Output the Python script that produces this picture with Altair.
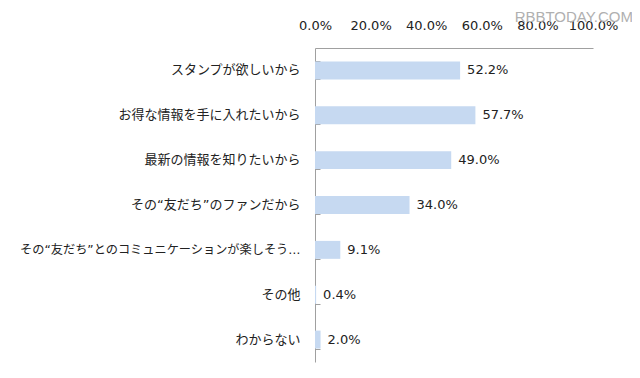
import altair as alt
import pandas as pd

categories = [
    "スタンプが欲しいから",
    "お得な情報を手に入れたいから",
    "最新の情報を知りたいから",
    "その“友だち”のファンだから",
    "その“友だち”とのコミュニケーションが楽しそう…",
    "その他",
    "わからない",
]
values = [52.2, 57.7, 49.0, 34.0, 9.1, 0.4, 2.0]
x_ticks = [0, 20, 40, 60, 80, 100]
watermark = ["RBBTODAY.COM"]

df = pd.DataFrame({"cat": categories, "value": values})

JP = "DejaVu Sans, Noto Sans CJK JP"
NUM = "DejaVu Sans"
AX = "#a0a0a0"

yscale = alt.Scale(paddingInner=0.6, paddingOuter=0.3)
xscale = alt.Scale(domain=[0, 100], nice=False)

base = alt.Chart(df)

bars = base.mark_bar(color="#c6d9f1").encode(
    x=alt.X(
        "value:Q",
        scale=xscale,
        axis=alt.Axis(
            orient="top",
            values=x_ticks,
            labelExpr="format(datum.value, '.1f') + '%'",
            labelOverlap=False,
            labelFlush=False,
            labelAlign="center",
            grid=False,
            ticks=False,
            domain=True,
            domainColor=AX,
            labelPadding=16,
            labelFont=NUM,
            labelFontSize=13,
            labelColor="#222222",
            title=None,
        ),
    ),
    y=alt.Y(
        "cat:N",
        sort=categories,
        scale=yscale,
        axis=alt.Axis(
            offset=-5,
            tickSize=5,
            tickBand="extent",
            tickColor=AX,
            labels=False,
            domain=False,
            grid=False,
            title=None,
        ),
    ),
)

text = base.transform_calculate(
    label="format(datum.value, '.1f') + '%'"
).mark_text(
    align="left", baseline="middle", dx=7, font=NUM, fontSize=13, color="#222222"
).encode(
    x=alt.X("value:Q", scale=xscale),
    y=alt.Y(
        "cat:N",
        sort=categories,
        scale=yscale,
        axis=alt.Axis(
            orient="left",
            ticks=False,
            tickSize=0,
            domain=True,
            domainColor=AX,
            labelPadding=15,
            labelFont=JP,
            labelFontSize={
                "condition": {"test": "length(datum.label) > 20", "value": 12.2},
                "value": 13,
            },
            labelColor="#222222",
            labelLimit=400,
            grid=False,
            title=None,
        ),
    ),
    text="label:N",
)

wm = alt.Chart(pd.DataFrame({"t": watermark})).mark_text(
    align="right",
    baseline="middle",
    font="Liberation Sans",
    fontSize=15,
    color="#b0b0b0",
).encode(
    text="t:N",
    x=alt.value(318),
    y=alt.value(-31),
)

chart = (
    alt.layer(bars, text, wm)
    .resolve_axis(y="independent")
    .properties(
        width=278,
        height=314,
        autosize=alt.AutoSizeParams(type="none"),
        padding={"left": 307, "top": 40, "right": 39, "bottom": 8},
        background="white",
    )
    .configure_view(stroke=None)
)

chart.save("out.html", embed_options={"renderer": "svg", "actions": False})
